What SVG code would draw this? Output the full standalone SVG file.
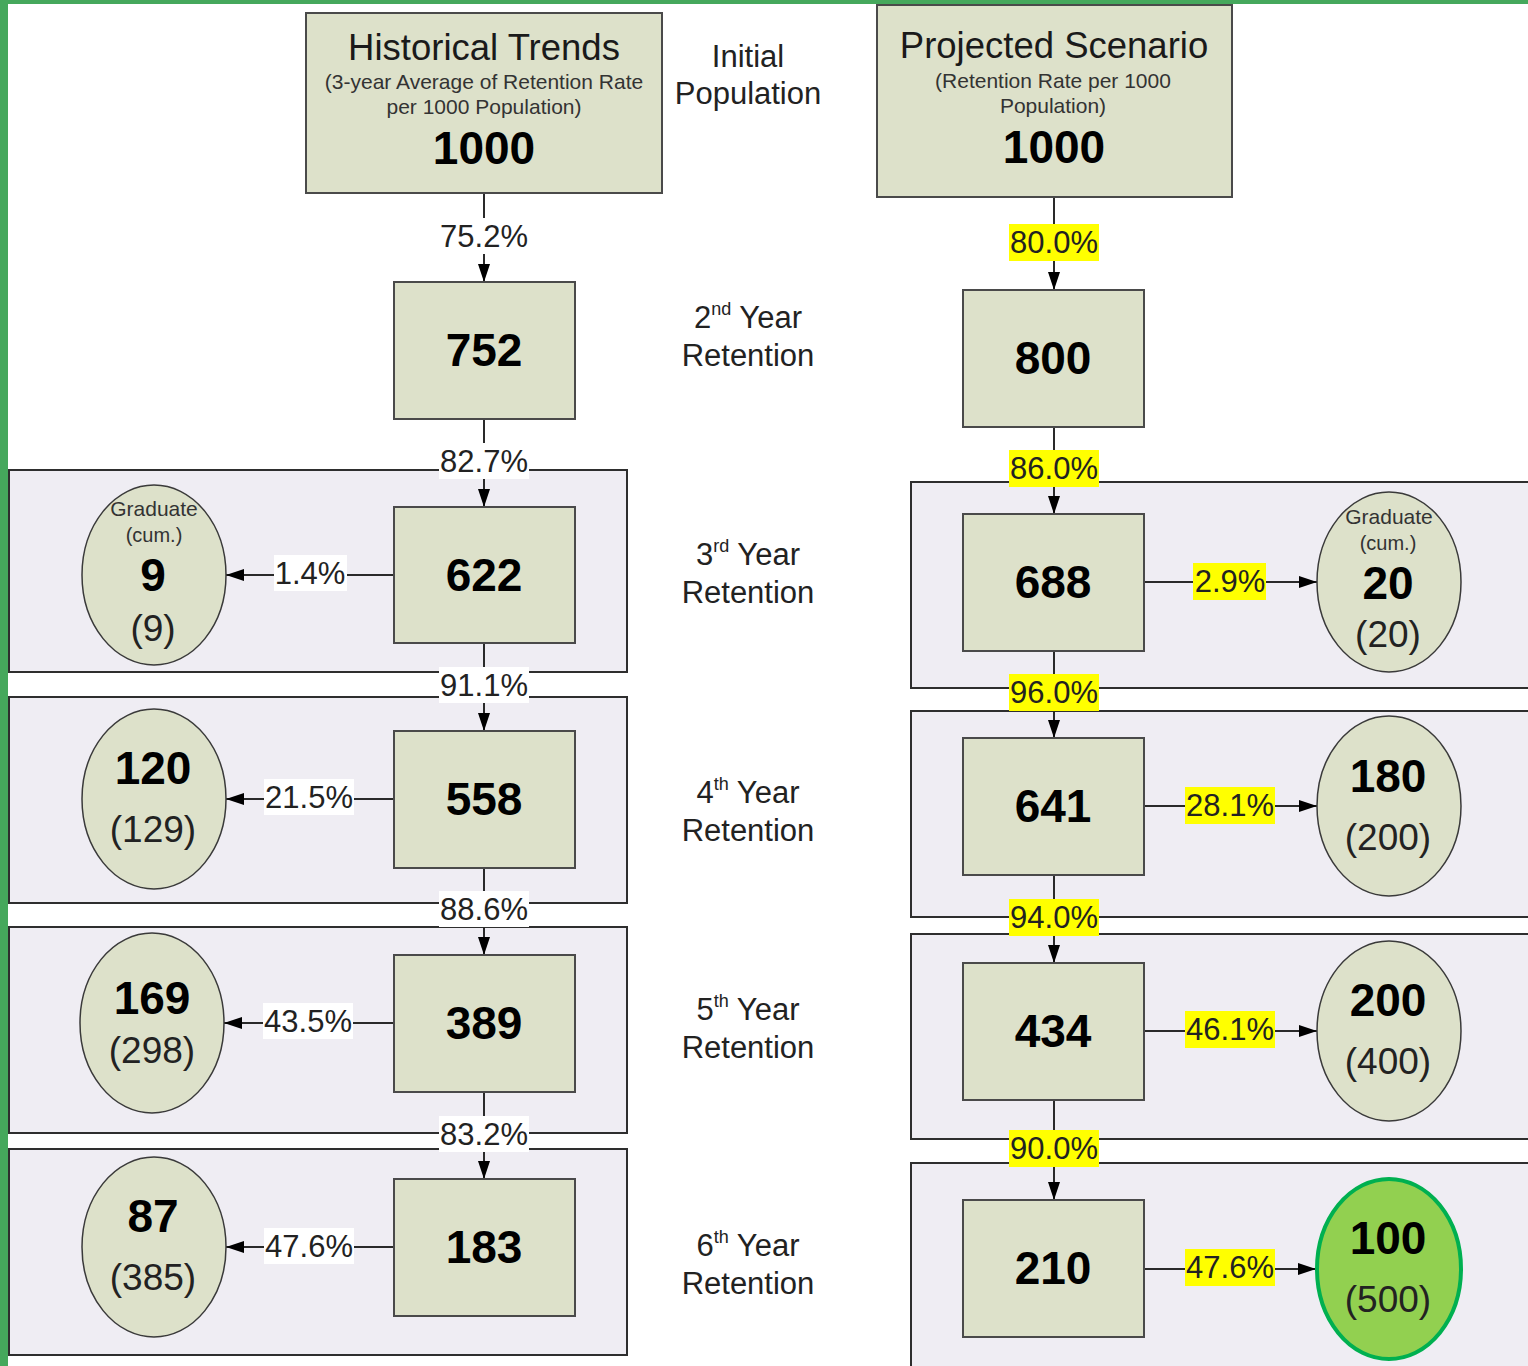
<svg xmlns="http://www.w3.org/2000/svg" width="1528" height="1366" viewBox="0 0 1528 1366">
<defs>
<style>
text{font-family:"Liberation Sans",Arial,sans-serif;fill:#1a1a1a;text-anchor:middle}
.box{fill:#dde1ca;stroke:#4a4a4a;stroke-width:2}
.band{fill:#efedf3;stroke:#2e2e2e;stroke-width:2}
.ell{fill:#dde1ca;stroke:#3a3a3a;stroke-width:1.5}
.big{font-size:46px;font-weight:bold;fill:#000}
.ttl{font-size:36.5px}
.sub{font-size:21px;fill:#333}
.mid{font-size:31px;fill:#222}
.pct{font-size:31px;fill:#222}
.par{font-size:37px;fill:#222}
.grad{font-size:21px;fill:#333}
.cum{font-size:20px;fill:#333}
.sup{font-size:18px}
.con{stroke:#2a2a2a;stroke-width:2;fill:none}
.wbg{fill:#fff}
.ybg{fill:#ffff00}
</style>
<marker id="ah" markerUnits="userSpaceOnUse" markerWidth="18" markerHeight="12" refX="18" refY="6" orient="auto" viewBox="0 0 18 12">
<path d="M0,0 L18,6 L0,12 Z" fill="#000"/>
</marker>
</defs>
<rect x="0" y="0" width="1528" height="1366" fill="#fff"/>
<rect x="0" y="0" width="1528" height="4" fill="#45a85c"/>
<rect x="0" y="0" width="8" height="1366" fill="#45a85c"/>

<g id="bands">
<rect class="band" x="9" y="470" width="618" height="202"/>
<rect class="band" x="9" y="697" width="618" height="206"/>
<rect class="band" x="9" y="927" width="618" height="206"/>
<rect class="band" x="9" y="1149" width="618" height="206"/>
<rect class="band" x="911" y="482" width="630" height="206"/>
<rect class="band" x="911" y="711" width="630" height="206"/>
<rect class="band" x="911" y="934" width="630" height="205"/>
<rect class="band" x="911" y="1163" width="630" height="220"/>
</g>

<g id="connectors">
<line class="con" x1="484" y1="193" x2="484" y2="282" marker-end="url(#ah)"/>
<line class="con" x1="484" y1="419" x2="484" y2="507" marker-end="url(#ah)"/>
<line class="con" x1="484" y1="643" x2="484" y2="731" marker-end="url(#ah)"/>
<line class="con" x1="484" y1="868" x2="484" y2="955" marker-end="url(#ah)"/>
<line class="con" x1="484" y1="1092" x2="484" y2="1179" marker-end="url(#ah)"/>
<line class="con" x1="394" y1="575" x2="226" y2="575" marker-end="url(#ah)"/>
<line class="con" x1="394" y1="799" x2="226" y2="799" marker-end="url(#ah)"/>
<line class="con" x1="394" y1="1023" x2="224" y2="1023" marker-end="url(#ah)"/>
<line class="con" x1="394" y1="1247" x2="226" y2="1247" marker-end="url(#ah)"/>
<line class="con" x1="1054" y1="197" x2="1054" y2="290" marker-end="url(#ah)"/>
<line class="con" x1="1054" y1="427" x2="1054" y2="514" marker-end="url(#ah)"/>
<line class="con" x1="1054" y1="651" x2="1054" y2="738" marker-end="url(#ah)"/>
<line class="con" x1="1054" y1="875" x2="1054" y2="963" marker-end="url(#ah)"/>
<line class="con" x1="1054" y1="1100" x2="1054" y2="1200" marker-end="url(#ah)"/>
<line class="con" x1="1144" y1="582" x2="1317" y2="582" marker-end="url(#ah)"/>
<line class="con" x1="1144" y1="806" x2="1317" y2="806" marker-end="url(#ah)"/>
<line class="con" x1="1144" y1="1031" x2="1317" y2="1031" marker-end="url(#ah)"/>
<line class="con" x1="1144" y1="1269" x2="1316" y2="1269" marker-end="url(#ah)"/>
<g id="labels">
<rect class="wbg" x="439" y="218" width="90" height="36"/><text class="pct" x="484" y="247">75.2%</text>
<rect class="wbg" x="439" y="443" width="90" height="36"/><text class="pct" x="484" y="472">82.7%</text>
<rect class="wbg" x="439" y="667" width="90" height="36"/><text class="pct" x="484" y="696">91.1%</text>
<rect class="wbg" x="439" y="891" width="90" height="36"/><text class="pct" x="484" y="920">88.6%</text>
<rect class="wbg" x="439" y="1116" width="90" height="36"/><text class="pct" x="484" y="1145">83.2%</text>
<rect class="wbg" x="274" y="555" width="73" height="36"/><text class="pct" x="310" y="584">1.4%</text>
<rect class="wbg" x="264" y="779" width="90" height="36"/><text class="pct" x="309" y="808">21.5%</text>
<rect class="wbg" x="263" y="1003" width="90" height="36"/><text class="pct" x="308" y="1032">43.5%</text>
<rect class="wbg" x="264" y="1228" width="90" height="36"/><text class="pct" x="309" y="1257">47.6%</text>
<rect class="ybg" x="1009" y="224" width="90" height="37"/><text class="pct" x="1054" y="253">80.0%</text>
<rect class="ybg" x="1009" y="450" width="90" height="37"/><text class="pct" x="1054" y="479">86.0%</text>
<rect class="ybg" x="1009" y="674" width="90" height="37"/><text class="pct" x="1054" y="703">96.0%</text>
<rect class="ybg" x="1009" y="899" width="90" height="37"/><text class="pct" x="1054" y="928">94.0%</text>
<rect class="ybg" x="1009" y="1130" width="90" height="37"/><text class="pct" x="1054" y="1159">90.0%</text>
<rect class="ybg" x="1193" y="563" width="73" height="37"/><text class="pct" x="1230" y="592">2.9%</text>
<rect class="ybg" x="1185" y="787" width="90" height="37"/><text class="pct" x="1230" y="816">28.1%</text>
<rect class="ybg" x="1185" y="1011" width="90" height="37"/><text class="pct" x="1230" y="1040">46.1%</text>
<rect class="ybg" x="1185" y="1249" width="90" height="37"/><text class="pct" x="1230" y="1278">47.6%</text>
</g>
</g>

<g id="hist-header">
<rect class="box" x="306" y="13" width="356" height="180"/>
<text class="ttl" x="484" y="60">Historical Trends</text>
<text class="sub" x="484" y="89">(3-year Average of Retention Rate</text>
<text class="sub" x="484" y="114">per 1000 Population)</text>
<text class="big" x="484" y="164">1000</text>
</g>
<g id="proj-header">
<rect class="box" x="877" y="5" width="355" height="192"/>
<text class="ttl" x="1054" y="58">Projected Scenario</text>
<text class="sub" x="1053" y="88">(Retention Rate per 1000</text>
<text class="sub" x="1053" y="113">Population)</text>
<text class="big" x="1054" y="163">1000</text>
</g>

<g id="row-labels">
<text class="mid" x="748" y="67">Initial</text>
<text class="mid" x="748" y="104">Population</text>
<text class="mid" x="748" y="328">2<tspan class="sup" dy="-13">nd</tspan><tspan dy="13"> Year</tspan></text>
<text class="mid" x="748" y="366">Retention</text>
<text class="mid" x="748" y="565">3<tspan class="sup" dy="-13">rd</tspan><tspan dy="13"> Year</tspan></text>
<text class="mid" x="748" y="603">Retention</text>
<text class="mid" x="748" y="803">4<tspan class="sup" dy="-13">th</tspan><tspan dy="13"> Year</tspan></text>
<text class="mid" x="748" y="841">Retention</text>
<text class="mid" x="748" y="1020">5<tspan class="sup" dy="-13">th</tspan><tspan dy="13"> Year</tspan></text>
<text class="mid" x="748" y="1058">Retention</text>
<text class="mid" x="748" y="1256">6<tspan class="sup" dy="-13">th</tspan><tspan dy="13"> Year</tspan></text>
<text class="mid" x="748" y="1294">Retention</text>
</g>

<g id="h752"><rect class="box" x="394" y="282" width="181" height="137"/><text class="big" x="484" y="366">752</text></g>
<g id="h622"><rect class="box" x="394" y="507" width="181" height="136"/><text class="big" x="484" y="591">622</text></g>
<g id="h558"><rect class="box" x="394" y="731" width="181" height="137"/><text class="big" x="484" y="815">558</text></g>
<g id="h389"><rect class="box" x="394" y="955" width="181" height="137"/><text class="big" x="484" y="1039">389</text></g>
<g id="h183"><rect class="box" x="394" y="1179" width="181" height="137"/><text class="big" x="484" y="1263">183</text></g>

<g id="p800"><rect class="box" x="963" y="290" width="181" height="137"/><text class="big" x="1053" y="374">800</text></g>
<g id="p688"><rect class="box" x="963" y="514" width="181" height="137"/><text class="big" x="1053" y="598">688</text></g>
<g id="p641"><rect class="box" x="963" y="738" width="181" height="137"/><text class="big" x="1053" y="822">641</text></g>
<g id="p434"><rect class="box" x="963" y="963" width="181" height="137"/><text class="big" x="1053" y="1047">434</text></g>
<g id="p210"><rect class="box" x="963" y="1200" width="181" height="137"/><text class="big" x="1053" y="1284">210</text></g>

<g id="hg1"><ellipse class="ell" cx="154" cy="575" rx="72" ry="90"/>
<text class="grad" x="154" y="516">Graduate</text><text class="cum" x="154" y="542">(cum.)</text>
<text class="big" x="153" y="591">9</text><text class="par" x="153" y="641">(9)</text></g>
<g id="hg2"><ellipse class="ell" cx="154" cy="799" rx="72" ry="90"/>
<text class="big" x="153" y="784">120</text><text class="par" x="153" y="842">(129)</text></g>
<g id="hg3"><ellipse class="ell" cx="152" cy="1023" rx="72" ry="90"/>
<text class="big" x="152" y="1014">169</text><text class="par" x="152" y="1063">(298)</text></g>
<g id="hg4"><ellipse class="ell" cx="154" cy="1247" rx="72" ry="90"/>
<text class="big" x="153" y="1232">87</text><text class="par" x="153" y="1290">(385)</text></g>

<g id="pg1"><ellipse class="ell" cx="1389" cy="582" rx="72" ry="90"/>
<text class="grad" x="1389" y="524">Graduate</text><text class="cum" x="1388" y="550">(cum.)</text>
<text class="big" x="1388" y="599">20</text><text class="par" x="1388" y="647">(20)</text></g>
<g id="pg2"><ellipse class="ell" cx="1389" cy="806" rx="72" ry="90"/>
<text class="big" x="1388" y="792">180</text><text class="par" x="1388" y="850">(200)</text></g>
<g id="pg3"><ellipse class="ell" cx="1389" cy="1031" rx="72" ry="90"/>
<text class="big" x="1388" y="1016">200</text><text class="par" x="1388" y="1074">(400)</text></g>
<g id="pg4"><ellipse cx="1389" cy="1269" rx="72" ry="90" fill="#92d050" stroke="#00b050" stroke-width="4"/>
<text class="big" x="1388" y="1254">100</text><text class="par" x="1388" y="1312">(500)</text></g>
</svg>
